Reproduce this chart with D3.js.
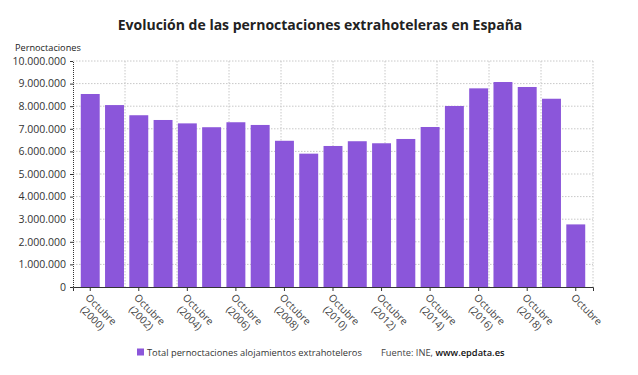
<!DOCTYPE html>
<html>
<head>
<meta charset="utf-8">
<script src="https://cdn.jsdelivr.net/npm/d3@7"></script>
<style>
  body { margin: 0; background: #fff; }
  svg { font-family: "Open Sans", sans-serif; }
</style>
</head>
<body>
<div id="chart"></div>
<script>
// October of each year, 2000 to 2020
const years = d3.range(2000, 2021);
const categories = years.map(y => 'Octubre (' + y + ')');
const values = [
  8540000, 8050000, 7600000, 7390000, 7240000, 7070000, 7290000, 7170000,
  6470000, 5900000, 6240000, 6450000, 6360000, 6550000, 7080000, 8010000,
  8790000, 9070000, 8850000, 8330000, 2770000
];
// labelled categories (every other one); the last label has no year shown
const tickLabels = [
  ['Octubre', '(2000)'], ['Octubre', '(2002)'], ['Octubre', '(2004)'],
  ['Octubre', '(2006)'], ['Octubre', '(2008)'], ['Octubre', '(2010)'],
  ['Octubre', '(2012)'], ['Octubre', '(2014)'], ['Octubre', '(2016)'],
  ['Octubre', '(2018)'], ['Octubre']
];
const yTicks = d3.range(0, 10000001, 1000000);

const W = 638, H = 375;
const margin = { top: 61, right: 45, bottom: 88, left: 73 };
const innerW = W - margin.left - margin.right;
const innerH = H - margin.top - margin.bottom;
const purple = '#8b56da';

const es = d3.formatLocale({ decimal: ',', thousands: '.', grouping: [3], currency: ['', ' €'] });
const fmt = es.format(',d');

const svg = d3.select('#chart').append('svg')
  .attr('width', W)
  .attr('height', H);

svg.append('text')
  .attr('x', 320)
  .attr('y', 30)
  .attr('text-anchor', 'middle')
  .attr('font-size', 14)
  .attr('font-weight', 'bold')
  .attr('fill', '#222')
  .text('Evolución de las pernoctaciones extrahoteleras en España');

svg.append('text')
  .attr('x', 15)
  .attr('y', 51)
  .attr('font-size', 9.2)
  .attr('fill', '#222')
  .text('Pernoctaciones');

const g = svg.append('g')
  .attr('transform', `translate(${margin.left},${margin.top})`);

const x = d3.scaleBand()
  .domain(categories)
  .range([0, innerW])
  .paddingInner(0.22)
  .paddingOuter(0.32);

const y = d3.scaleLinear()
  .domain([0, 10000000])
  .range([innerH, 0]);

// grid
const gridX = d3.scaleLinear().domain([0, 10]).range([0, innerW]);
g.append('g')
  .selectAll('line')
  .data(d3.range(1, 11))
  .enter().append('line')
  .attr('x1', d => gridX(d)).attr('x2', d => gridX(d))
  .attr('y1', 0).attr('y2', innerH)
  .attr('stroke', '#c8c8c8')
  .attr('stroke-dasharray', '1.5,1.5');

g.append('g')
  .selectAll('line')
  .data(yTicks.slice(1))
  .enter().append('line')
  .attr('x1', 0).attr('x2', innerW)
  .attr('y1', d => y(d)).attr('y2', d => y(d))
  .attr('stroke', '#c8c8c8')
  .attr('stroke-dasharray', '1.5,1.5');

// bars
g.selectAll('.bar')
  .data(values)
  .enter().append('rect')
  .attr('class', 'bar')
  .attr('x', (d, i) => x(categories[i]))
  .attr('width', x.bandwidth())
  .attr('y', d => y(d))
  .attr('height', d => innerH - y(d))
  .attr('fill', purple);

// y axis
const yAxis = g.append('g')
  .call(d3.axisLeft(y).tickValues(yTicks).tickFormat(fmt).tickSize(3).tickPadding(4));
yAxis.select('.domain').attr('stroke', '#333').attr('stroke-dasharray', '1,1');
yAxis.selectAll('.tick line').attr('stroke', '#333');
yAxis.selectAll('text').attr('font-size', 10.5).attr('fill', '#333')
  .attr('font-family', '"Open Sans", sans-serif');

// x axis
const labelled = categories.filter((c, i) => i % 2 === 0);
const xAxis = g.append('g')
  .attr('transform', `translate(0,${innerH})`)
  .call(d3.axisBottom(x).tickValues(labelled).tickSize(4).tickFormat(''));
xAxis.select('.domain').attr('stroke', '#333');
xAxis.selectAll('.tick line').attr('stroke', '#333');

xAxis.selectAll('.tick').each(function (c, i) {
  const lines = tickLabels[i];
  const t = d3.select(this).append('text')
    .attr('transform', 'translate(1,5) rotate(45)')
    .attr('font-size', 10.2)
    .attr('fill', '#444')
    .attr('text-anchor', 'middle')
    .attr('font-family', '"Open Sans", sans-serif');
  const spans = lines.map((s, k) => t.append('tspan')
    .attr('y', 9 + k * 12)
    .text(s));
  const w0 = spans[0].node().getComputedTextLength();
  spans.forEach(s => s.attr('x', w0 / 2));
});

// legend
const leg = svg.append('g').attr('transform', 'translate(137,356)');
leg.append('rect')
  .attr('x', 0).attr('y', -7.5)
  .attr('width', 7).attr('height', 7)
  .attr('fill', purple);
leg.append('text')
  .attr('x', 10).attr('y', 0)
  .attr('font-size', 9.3)
  .attr('fill', '#333')
  .text('Total pernoctaciones alojamientos extrahoteleros');

const src = svg.append('text')
  .attr('x', 381).attr('y', 356)
  .attr('font-size', 9.3)
  .attr('fill', '#444');
src.append('tspan').text('Fuente: INE, ');
src.append('tspan').attr('fill', '#111').attr('font-weight', 600).text('www.epdata.es');
</script>
</body>
</html>
